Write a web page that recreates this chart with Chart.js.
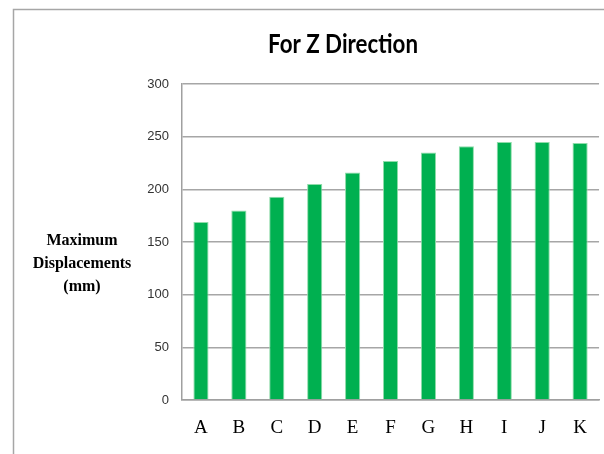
<!DOCTYPE html>
<html>
<head>
<meta charset="utf-8">
<script src="https://cdn.jsdelivr.net/npm/chart.js@4"></script>
<style>
  html, body { margin: 0; padding: 0; background: #fff; }
  #wrap { width: 604px; height: 454px; }
</style>
</head>
<body>
<div id="wrap"><canvas id="zChart" width="604" height="454"></canvas></div>
<script>
// data
const categories = ['A', 'B', 'C', 'D', 'E', 'F', 'G', 'H', 'I', 'J', 'K'];
const displacements = [169, 180, 193, 205, 216, 227, 235, 241, 245, 245, 244];
const yTicks = [0, 50, 100, 150, 200, 250, 300];
const chartTitle = 'For Z Direction';
const yTitleLines = ['Maximum', 'Displacements', '(mm)'];

// frame, title and the horizontal y-axis title
const decorations = {
    id: 'decorations',
    beforeDraw(chart) {
        const ctx = chart.ctx;
        ctx.save();
        ctx.strokeStyle = '#a6a6a6';
        ctx.lineWidth = 1.5;
        ctx.beginPath();
        ctx.moveTo(13.5, 454);
        ctx.lineTo(13.5, 9.5);
        ctx.lineTo(604, 9.5);
        ctx.stroke();
        ctx.restore();
    },
    afterDraw(chart) {
        const ctx = chart.ctx;
        ctx.save();
        ctx.fillStyle = '#000';
        ctx.font = 'bold 27px Lato';
        ctx.textAlign = 'center';
        ctx.textBaseline = 'alphabetic';
        const w = ctx.measureText(chartTitle).width;
        ctx.translate(343, 53);
        ctx.scale(150 / w, 1);
        ctx.fillText(chartTitle, 0, 0);
        ctx.restore();

        ctx.save();
        ctx.fillStyle = '#000';
        ctx.font = 'bold 16px "Liberation Serif"';
        ctx.textAlign = 'center';
        ctx.textBaseline = 'alphabetic';
        const baselines = [245, 268, 291];
        yTitleLines.forEach((line, i) => ctx.fillText(line, 82, baselines[i]));
        ctx.restore();
    }
};

const ctx = document.getElementById('zChart').getContext('2d');
new Chart(ctx, {
    type: 'bar',
    data: {
        labels: categories,
        datasets: [{
            data: displacements,
            backgroundColor: '#00b050',
            borderColor: '#8fdcaa',
            borderWidth: { left: 1, right: 1, top: 1, bottom: 0 },
            categoryPercentage: 1,
            barPercentage: 0.4
        }]
    },
    options: {
        responsive: false,
        animation: false,
        devicePixelRatio: 1,
        layout: { padding: { top: 84, right: 1, left: 0, bottom: 0 } },
        plugins: {
            legend: { display: false },
            tooltip: { enabled: false },
            title: { display: false }
        },
        scales: {
            x: {
                afterFit(scale) { scale.height = 54; },
                grid: { display: false, drawTicks: false },
                border: { color: '#a0a0a0', width: 1.5 },
                ticks: {
                    color: '#000',
                    padding: 17,
                    font: { family: '"Liberation Serif"', size: 19 }
                }
            },
            y: {
                min: 0,
                max: 300,
                afterFit(scale) { scale.width = 182; },
                afterBuildTicks(scale) { scale.ticks = yTicks.map(v => ({ value: v })); },
                grid: { color: '#a6a6a6', lineWidth: 1.5, drawTicks: false },
                border: { color: '#a0a0a0', width: 1.5 },
                ticks: {
                    color: '#333',
                    padding: 13,
                    font: { family: '"Liberation Sans"', size: 13 }
                }
            }
        }
    },
    plugins: [decorations]
});
</script>
</body>
</html>
